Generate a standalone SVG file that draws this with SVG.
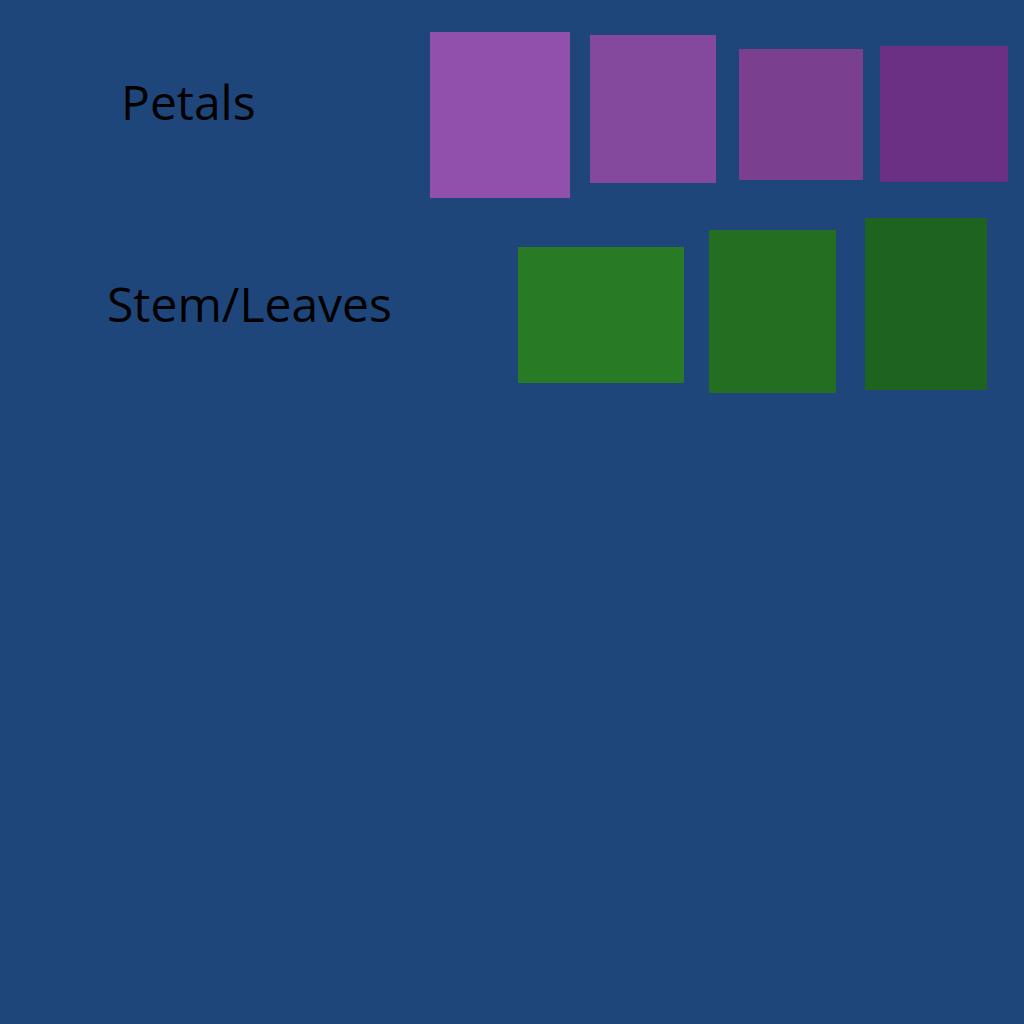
<svg xmlns="http://www.w3.org/2000/svg" width="1024" height="1024" viewBox="0 0 1024 1024">
<style>
.lbl{font-family:"Open Sans","Noto Sans",sans-serif;font-size:48px;fill:#000}
</style>
<rect width="1024" height="1024" fill="#1f467b"/>
<g id="label-petals"><text class="lbl" x="121" y="120">Petals</text></g>
<g id="label-stem"><text class="lbl" x="107" y="322">Stem/Leaves</text></g>
<g id="petal-1"><rect x="430" y="32" width="140" height="166" fill="#9050ab"/></g>
<g id="petal-2"><rect x="590" y="35" width="126" height="148" fill="#84489d"/></g>
<g id="petal-3"><rect x="739" y="49" width="124" height="131" fill="#7a3f8f"/></g>
<g id="petal-4"><rect x="880" y="46" width="128" height="136" fill="#6a3084"/></g>
<g id="leaf-1"><rect x="518" y="247" width="166" height="136" fill="#287b24"/></g>
<g id="leaf-2"><rect x="709" y="230" width="127" height="163" fill="#246e22"/></g>
<g id="leaf-3"><rect x="865" y="218" width="122" height="172" fill="#1f641e"/></g>
<g id="connectors"></g>
</svg>
